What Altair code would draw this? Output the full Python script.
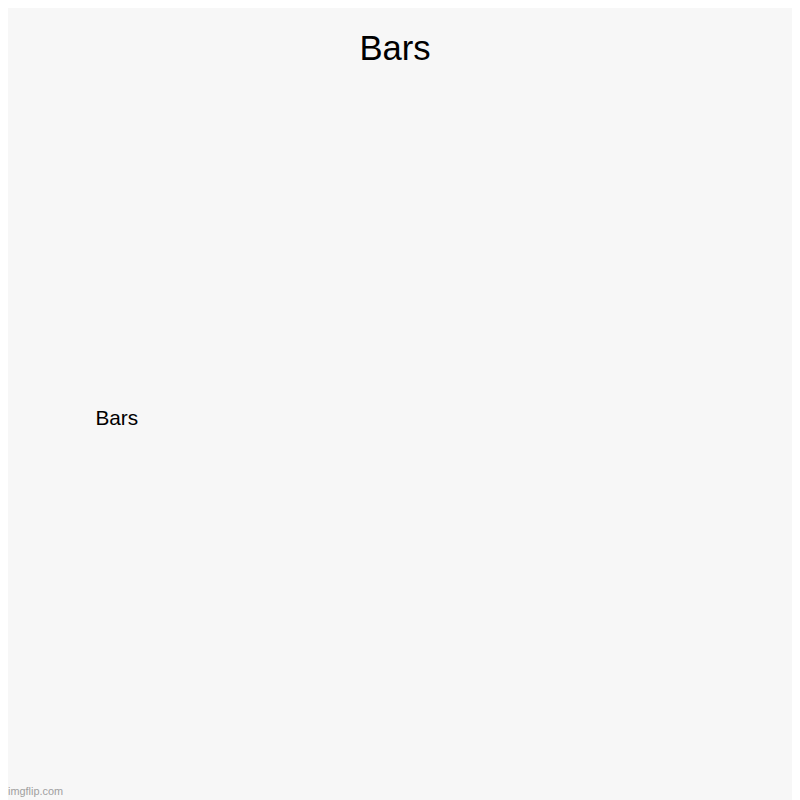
import altair as alt
import pandas as pd

categories = ["Bars"]
values = [0]
title_text = "Bars"
watermark = ["imgflip.com"]

df = pd.DataFrame({"category": categories, "value": values})
wm = pd.DataFrame({"t": watermark})

bars = alt.Chart(df).mark_bar(color="#4e79a7").encode(
    y=alt.Y("category:N", sort=categories,
            axis=alt.Axis(title=None, ticks=False, tickSize=0, domain=False,
                          labelFontSize=21, labelColor="#000000",
                          labelFont="Liberation Sans", labelPadding=9,
                          labelLimit=300)),
    x=alt.X("value:Q", scale=alt.Scale(domain=[0, 1]), axis=None),
)

mark_wm = alt.Chart(wm).mark_text(
    align="left", baseline="alphabetic", fontSize=11,
    font="Liberation Sans", color="#a0a0a0"
).encode(text="t:N", x=alt.value(-140), y=alt.value(708))

chart = alt.layer(bars, mark_wm).properties(
    width=640, height=656,
    autosize=alt.AutoSizeParams(type="none"),
    padding={"left": 140, "top": 83, "right": 12, "bottom": 60},
    background="#f7f7f7",
    title=alt.TitleParams(title_text, fontSize=35, font="Liberation Sans",
                          fontWeight="normal", color="#000000",
                          anchor="middle", baseline="alphabetic",
                          offset=29, dx=-69, dy=29),
).configure_view(stroke=None)

chart.save("out.html", embed_options={"renderer": "svg", "actions": False})
